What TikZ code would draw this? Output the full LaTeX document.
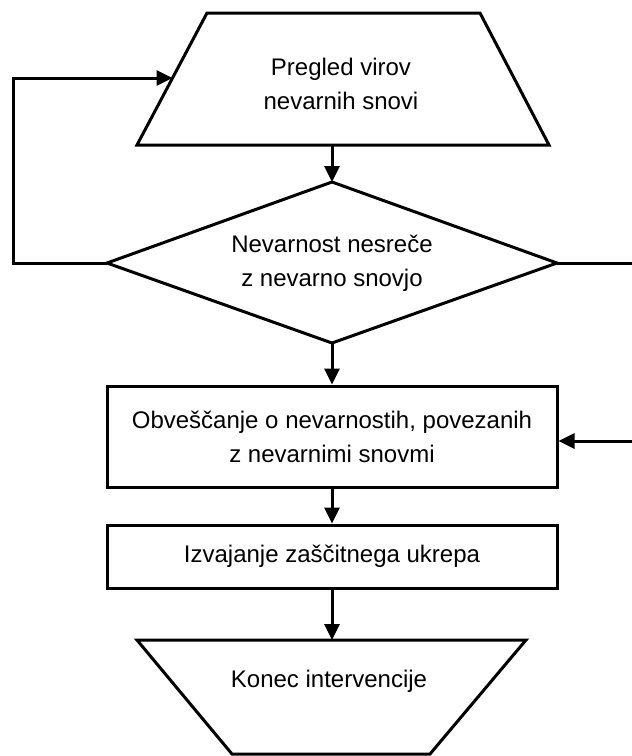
\documentclass[tikz,border=0pt]{standalone}
\usepackage{fontspec}
\setmainfont{Liberation Sans}
\usetikzlibrary{arrows.meta}

\tikzset{
  line/.style={line width=1.5pt, line join=miter},
  flow/.style={line, -{Triangle[length=8pt,width=7.5pt]}},
  box/.style={line, draw, minimum width=225pt, align=center, inner sep=0pt},
  txt/.style={align=center, inner sep=0pt}
}

\begin{document}
\begin{tikzpicture}[x=0.5pt,y=-0.5pt]
    \fontsize{12}{17}\selectfont
    \useasboundingbox (0,0) rectangle (632,756);
    % corners of the drawn shapes
    \coordinate (pregled-tl) at (207,13);
    \coordinate (pregled-tr) at (480,13);
    \coordinate (pregled-br) at (549,145);
    \coordinate (pregled-bl) at (137,145);
    \coordinate (pregled-out) at (332,145);
    \coordinate (pregled-in) at (172.5,78);
    \coordinate (dia-top) at (332,182);
    \coordinate (dia-right) at (557,263);
    \coordinate (dia-bottom) at (332,343);
    \coordinate (dia-left) at (107,263);
    \coordinate (konec-tl) at (137,640);
    \coordinate (konec-tr) at (526,640);
    \coordinate (konec-br) at (430,754);
    \coordinate (konec-bl) at (232,754);
    \coordinate (konec-in) at (332,640);
    \coordinate (loop-a) at (13,263);
    \coordinate (loop-b) at (13,78);
    \coordinate (edge-a) at (632,263);
    \coordinate (edge-b) at (632,441);

    \draw[line] (pregled-tl)--(pregled-tr)--(pregled-br)--(pregled-bl)--cycle;
    \draw[line] (dia-top)--(dia-right)--(dia-bottom)--(dia-left)--cycle;
    \draw[line] (konec-tl)--(konec-tr)--(konec-br)--(konec-bl)--cycle;

    \node[txt] (pregled) at (341,84) {Pregled virov\\nevarnih snovi};
    \node[txt] (nevarnost) at (332,263) {Nevarnost nesreče\\z nevarno snovjo};
    \node[box, minimum height=50.5pt] (obvescanje) at (332,436.5)
        {Obveščanje o nevarnostih, povezanih\\z nevarnimi snovmi};
    \node[box, minimum height=31.5pt] (ukrep) at (332,556.5) {Izvajanje zaščitnega ukrepa};
    \node[txt] (konec) at (329,681) {Konec intervencije};

    \draw[flow] (pregled-out)--(dia-top);
    \draw[flow] (dia-bottom)--(obvescanje.north);
    \draw[flow] (obvescanje.south)--(ukrep.north);
    \draw[flow] (ukrep.south)--(konec-in);
    \draw[flow] (dia-left)--(loop-a)--(loop-b)--(pregled-in);
    \draw[line] (dia-right)--(edge-a);
    \draw[flow] (edge-b)--(obvescanje.east |- edge-b);
\end{tikzpicture}
\end{document}
